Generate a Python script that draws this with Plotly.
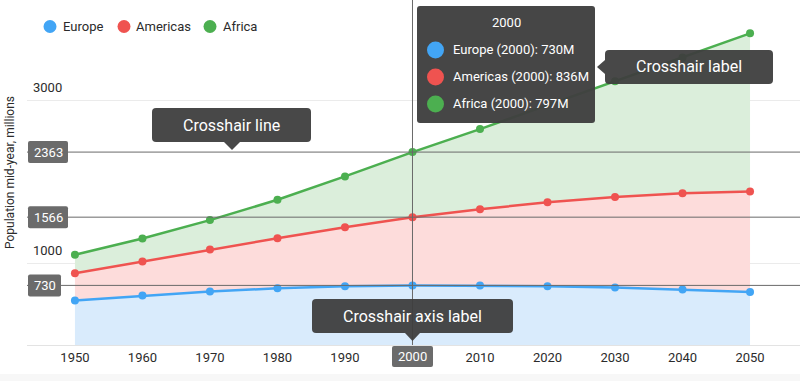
import plotly.graph_objects as go

# ---- data ----
years = [1950, 1960, 1970, 1980, 1990, 2000, 2010, 2020, 2030, 2040, 2050]
europe = [546, 605, 656, 694, 721, 730, 728, 721, 704, 680, 650]
americas = [332, 417, 513, 614, 721, 836, 935, 1027, 1110, 1178, 1231]
africa = [227, 283, 361, 471, 623, 797, 982, 1189, 1416, 1665, 1937]
series_names = ["Europe", "Americas", "Africa"]
series_values = [europe, americas, africa]
line_colors = ["#42a5f5", "#ef5350", "#4caf50"]
fill_colors = ["#d9ebfc", "#fddcdb", "#dbeedb"]
y_tick_vals = [1000, 3000]
x_tick_vals = years
crosshair_year = 2000
y_title = "Population mid-year, millions"

FONT = "Roboto"
TEXT = "#2b2b2b"
DARK = "rgba(62,62,62,0.95)"

# layout geometry in pixels
W, H = 800, 381
ML, MR, MT, MB = 27, 0, 0, 36
PW, PH = W - ML - MR, H - MT - MB
Y_MAX = 4226


def X(px):
    return (px - ML) / PW


def Y(py):
    return (MT + PH - py) / PH


def rrect_path(x0, y0, x1, y1, r):
    s = f"M{X(x0 + r)},{Y(y0)} "
    s += f"L{X(x1 - r)},{Y(y0)} Q{X(x1)},{Y(y0)} {X(x1)},{Y(y0 + r)} "
    s += f"L{X(x1)},{Y(y1 - r)} Q{X(x1)},{Y(y1)} {X(x1 - r)},{Y(y1)} "
    s += f"L{X(x0 + r)},{Y(y1)} Q{X(x0)},{Y(y1)} {X(x0)},{Y(y1 - r)} "
    s += f"L{X(x0)},{Y(y0 + r)} Q{X(x0)},{Y(y0)} {X(x0 + r)},{Y(y0)} Z"
    return s


def tri_path(pts):
    return "M" + " L".join(f"{X(a)},{Y(b)}" for a, b in pts) + " Z"


fig = go.Figure()
for name, vals, lc, fc in zip(series_names, series_values, line_colors, fill_colors):
    fig.add_trace(go.Scatter(
        x=years, y=vals, name=name, stackgroup="pop",
        mode="lines+markers",
        line=dict(color=lc, width=2.5),
        marker=dict(color=lc, size=8),
        fillcolor=fc, showlegend=False, hoverinfo="skip",
    ))

idx = years.index(crosshair_year)
stacked = []
acc = 0
for vals in series_values:
    acc += vals[idx]
    stacked.append(acc)

shapes = []
annotations = []

# bottom page strip
shapes.append(dict(type="rect", xref="paper", yref="paper", x0=X(0), x1=X(800),
                   y0=Y(381), y1=Y(374), fillcolor="#f7f7f7", line_width=0, layer="below"))

# crosshair lines
shapes.append(dict(type="line", xref="x", yref="paper", x0=crosshair_year, x1=crosshair_year,
                   y0=0, y1=1, line=dict(color="#6a6a6a", width=1), layer="above"))
for v in stacked:
    shapes.append(dict(type="line", xref="paper", yref="y", x0=0, x1=1, y0=v, y1=v,
                       line=dict(color="#6a6a6a", width=1), layer="above"))

# crosshair value labels on y axis
for v in stacked:
    txt = str(v)
    wbox = 33 if len(txt) == 3 else 40
    yc = MT + PH - v * PH / Y_MAX
    shapes.append(dict(type="path", xref="paper", yref="paper",
                       path=rrect_path(28, yc - 11, 28 + wbox, yc + 11, 2),
                       fillcolor="#6b6b6b", line_width=0, layer="above"))
    annotations.append(dict(xref="paper", yref="paper", x=X(28 + wbox / 2), y=Y(yc),
                            text=txt, showarrow=False, xanchor="center", yanchor="middle",
                            font=dict(family=FONT, size=13, color="white")))

# crosshair label on x axis
shapes.append(dict(type="path", xref="paper", yref="paper",
                   path=rrect_path(392, 346, 433, 367, 2),
                   fillcolor="#6b6b6b", line_width=0, layer="above"))
annotations.append(dict(xref="paper", yref="paper", x=X(412.5), y=Y(356.5),
                        text=str(crosshair_year), showarrow=False, xanchor="center", yanchor="middle",
                        font=dict(family=FONT, size=13, color="white")))

# tooltip
shapes.append(dict(type="path", xref="paper", yref="paper",
                   path=rrect_path(417, 6, 595, 123, 3),
                   fillcolor="rgba(64,64,64,0.97)", line_width=0, layer="above"))
annotations.append(dict(xref="paper", yref="paper", x=X(506), y=Y(23),
                        text=str(crosshair_year), showarrow=False, xanchor="center", yanchor="middle",
                        font=dict(family=FONT, size=13, color="white")))
for i, (name, vals, lc) in enumerate(zip(series_names, series_values, line_colors)):
    cy = [50, 77, 104][i]
    shapes.append(dict(type="circle", xref="paper", yref="paper",
                       xsizemode="pixel", ysizemode="pixel", xanchor=X(435.5), yanchor=Y(cy),
                       x0=-8.5, x1=8.5, y0=-8.5, y1=8.5, fillcolor=lc, line_width=0, layer="above"))
    annotations.append(dict(xref="paper", yref="paper", x=X(451), y=Y(cy),
                            text=f"{name} ({crosshair_year}): {vals[idx]}M", showarrow=False,
                            xanchor="left", yanchor="middle",
                            font=dict(family=FONT, size=13, color="white")))

# callouts
callouts = [
    ("Crosshair line", (152, 108, 311, 142), [(224, 142), (240, 142), (232, 150)]),
    ("Crosshair label", (605, 50, 773, 84), [(605, 60), (605, 74), (597, 67)]),
    ("Crosshair axis label", (312, 299, 513, 333), [(405, 333), (420, 333), (412.5, 341)]),
]
for text, (x0, y0, x1, y1), tri in callouts:
    shapes.append(dict(type="path", xref="paper", yref="paper",
                       path=rrect_path(x0, y0, x1, y1, 4),
                       fillcolor=DARK, line_width=0, layer="above"))
    shapes.append(dict(type="path", xref="paper", yref="paper", path=tri_path(tri),
                       fillcolor=DARK, line_width=0, layer="above"))
    annotations.append(dict(xref="paper", yref="paper", x=X((x0 + x1) / 2), y=Y((y0 + y1) / 2),
                            text=text, showarrow=False, xanchor="center", yanchor="middle",
                            font=dict(family=FONT, size=16, color="white")))

# legend (custom)
legend_pos = [(50, 62), (124, 135), (210, 222)]
for name, lc, (cx, tx) in zip(series_names, line_colors, legend_pos):
    shapes.append(dict(type="circle", xref="paper", yref="paper",
                       xsizemode="pixel", ysizemode="pixel", xanchor=X(cx), yanchor=Y(26.5),
                       x0=-6.5, x1=6.5, y0=-6.5, y1=6.5, fillcolor=lc, line_width=0, layer="above"))
    annotations.append(dict(xref="paper", yref="paper", x=X(tx - 1), y=Y(26.5),
                            text=name, showarrow=False, xanchor="left", yanchor="middle",
                            font=dict(family=FONT, size=13, color=TEXT)))

# y title
annotations.append(dict(xref="paper", yref="paper", x=X(10), y=Y(173), text=y_title,
                        showarrow=False, textangle=-90, xanchor="center", yanchor="middle",
                        font=dict(family=FONT, size=12, color=TEXT)))

fig.update_layout(
    width=W, height=H,
    margin=dict(l=ML, r=MR, t=MT, b=MB),
    paper_bgcolor="white", plot_bgcolor="white",
    showlegend=False,
    shapes=shapes, annotations=annotations,
    font=dict(family=FONT, size=13, color=TEXT),
    xaxis=dict(range=[1942.9, 2057.4], tickvals=x_tick_vals, ticktext=[str(y) for y in x_tick_vals],
               showgrid=False, zeroline=False, showline=True, linecolor="#e3e3e3", linewidth=1,
               ticks="", tickfont=dict(family=FONT, size=13, color=TEXT), fixedrange=True),
    yaxis=dict(range=[0, Y_MAX], tickvals=y_tick_vals, showgrid=True, gridcolor="#ebebeb",
               zeroline=False, showline=False, ticks="", ticklabelposition="inside top",
               ticklabelshift=-4, ticklabelstandoff=3,
               tickfont=dict(family=FONT, size=13, color=TEXT), fixedrange=True),
)

fig.write_html("out.html", config={"staticPlot": True},
               post_script="document.body.style.margin='0px';document.body.style.padding='0px';")
